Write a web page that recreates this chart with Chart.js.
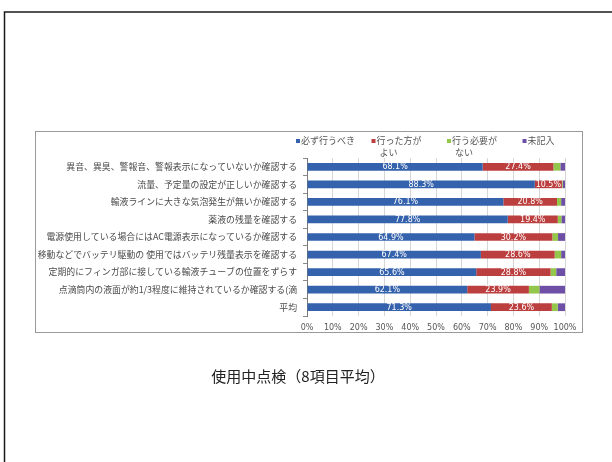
<!DOCTYPE html>
<html>
<head>
<meta charset="utf-8">
<script src="https://cdn.jsdelivr.net/npm/chart.js@4/dist/chart.umd.min.js"></script>
<style>
    body { margin: 0; background: #fff; }
    #chart { display: block; }
</style>
</head>
<body>
<canvas id="chart" width="612" height="462"></canvas>
<script>
    const categories = [
        '異音、異臭、警報音、警報表示になっていないか確認する',
        '流量、予定量の設定が正しいか確認する',
        '輸液ラインに大きな気泡発生が無いか確認する',
        '薬液の残量を確認する',
        '電源使用している場合にはAC電源表示になっているか確認する',
        '移動などでバッテリ駆動の 使用ではバッテリ残量表示を確認する',
        '定期的にフィンガ部に接している輸液チューブの位置をずらす',
        '点滴筒内の液面が約1/3程度に維持されているか確認する(滴',
        '平均'
    ];
    const seriesNames = ['必ず行うべき', '行った方がよい', '行う必要がない', '未記入'];
    const mustDo = [68.1, 88.3, 76.1, 77.8, 64.9, 67.4, 65.6, 62.1, 71.3];
    const better = [27.4, 10.5, 20.8, 19.4, 30.2, 28.6, 28.8, 23.9, 23.6];
    const notNeeded = [2.7, 0.3, 1.6, 1.4, 2.2, 2.5, 2.2, 4.1, 2.3];
    const blank = [1.8, 0.9, 1.5, 1.4, 2.7, 1.5, 3.4, 9.9, 2.8];
    const xTicks = [0, 10, 20, 30, 40, 50, 60, 70, 80, 90, 100];

    const colors = ['#3562ac', '#bc3f3f', '#92c74b', '#6e4fa6'];
    const jpFont = '"Noto Sans CJK JP", "Noto Sans", sans-serif';
    const title = '使用中点検（8項目平均）';

    // page frame, chart box, legend and caption
    const decorations = {
        id: 'decorations',
        beforeDraw(chart) {
            const ctx = chart.ctx;
            ctx.save();
            ctx.fillStyle = '#fff';
            ctx.fillRect(0, 0, chart.width, chart.height);
            ctx.strokeStyle = '#1a1a1a';
            ctx.lineWidth = 1.5;
            ctx.beginPath();
            ctx.moveTo(4.5, 462);
            ctx.lineTo(4.5, 12);
            ctx.lineTo(612, 12);
            ctx.stroke();
            ctx.strokeStyle = '#9a9a9a';
            ctx.lineWidth = 1;
            ctx.strokeRect(35.5, 131.5, 547, 201);
            ctx.restore();
        },
        afterDraw(chart) {
            const ctx = chart.ctx;
            ctx.save();
            ctx.font = '9px ' + jpFont;
            ctx.textBaseline = 'middle';
            seriesNames.forEach((name, i) => {
                const x = 296 + i * 75.5;
                ctx.fillStyle = colors[i];
                ctx.fillRect(x, 139, 4, 4);
                ctx.fillStyle = '#555';
                // long names wrap after five characters
                const lines = name.length > 6 ? [name.slice(0, 5), name.slice(5)] : [name];
                lines.forEach((line, j) => {
                    ctx.fillText(line, j === 0 ? x + 5 : x + 8, 141 + j * 12);
                });
            });
            ctx.fillStyle = '#222';
            ctx.font = '15px ' + jpFont;
            ctx.textAlign = 'center';
            ctx.fillText(title, 298, 376);
            ctx.restore();
        }
    };

    // white percentage labels on the first two segments
    const barLabels = {
        id: 'barLabels',
        afterDatasetsDraw(chart) {
            const ctx = chart.ctx;
            ctx.save();
            ctx.font = '8px "DejaVu Sans", sans-serif';
            ctx.fillStyle = '#fff';
            ctx.textAlign = 'center';
            ctx.textBaseline = 'middle';
            [0, 1].forEach(di => {
                const meta = chart.getDatasetMeta(di);
                meta.data.forEach((bar, i) => {
                    const v = chart.data.datasets[di].data[i];
                    const p = bar.getProps(['x', 'y', 'base'], true);
                    ctx.fillText(v.toFixed(1) + '%', (p.x + p.base) / 2, p.y + 0.5);
                });
            });
            ctx.restore();
        }
    };

    const values = [mustDo, better, notNeeded, blank];
    const ctx = document.getElementById('chart').getContext('2d');
    const myChart = new Chart(ctx, {
        type: 'bar',
        data: {
            labels: categories,
            datasets: seriesNames.map((name, i) => ({
                label: name,
                data: values[i],
                backgroundColor: colors[i],
                borderWidth: 0,
                categoryPercentage: 1,
                barPercentage: 0.44
            }))
        },
        options: {
            indexAxis: 'y',
            responsive: false,
            animation: false,
            devicePixelRatio: 1,
            layout: {
                padding: { left: 0, right: 47, top: 158, bottom: 126 }
            },
            plugins: {
                legend: { display: false },
                tooltip: { enabled: false }
            },
            scales: {
                x: {
                    stacked: true,
                    min: 0,
                    max: 100,
                    afterBuildTicks(scale) {
                        scale.ticks = xTicks.map(v => ({ value: v }));
                    },
                    afterFit(scale) { scale.height = 20; },
                    grid: { color: '#d6d6d6', drawTicks: false },
                    border: { display: false },
                    ticks: {
                        padding: 7,
                        color: '#555',
                        autoSkip: false,
                        font: { size: 8, family: '"DejaVu Sans", sans-serif' },
                        maxRotation: 0,
                        callback: v => v + '%'
                    }
                },
                y: {
                    stacked: true,
                    afterFit(scale) { scale.width = 307; },
                    grid: {
                        offset: true,
                        drawOnChartArea: false,
                        drawTicks: true,
                        tickLength: 4,
                        color: '#8a8a8a'
                    },
                    border: { display: true, color: '#7a7a7a' },
                    ticks: {
                        padding: 6,
                        color: '#4a4a4a',
                        autoSkip: false,
                        font: { size: 8.9, family: jpFont }
                    }
                }
            }
        },
        plugins: [decorations, barLabels]
    });
</script>
</body>
</html>
